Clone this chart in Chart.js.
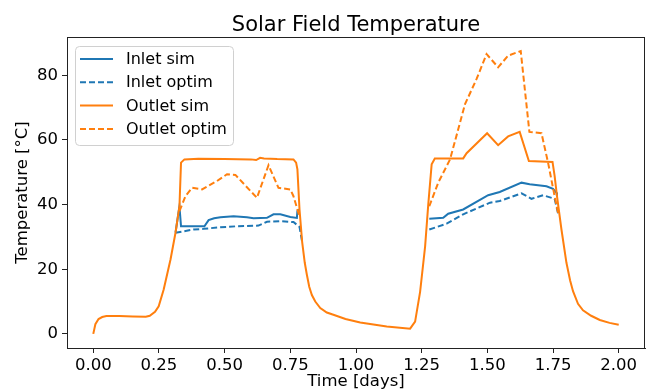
<!DOCTYPE html>
<html>
<head>
<meta charset="utf-8">
<script src="https://cdn.jsdelivr.net/npm/chart.js@4/dist/chart.umd.min.js"></script>
<style>
html,body{margin:0;padding:0;background:#fff;}
#c{display:block;}
</style>
</head>
<body>
<canvas id="c" width="649" height="392"></canvas>
<script>
// ---- data ----
const chartTitle = 'Solar Field Temperature';
const xLabel = 'Time [days]';
const yLabel = 'Temperature [°C]';
const seriesNames = ['Inlet sim', 'Inlet optim', 'Outlet sim', 'Outlet optim'];
const xTicks = [0, 0.25, 0.5, 0.75, 1.0, 1.25, 1.5, 1.75, 2.0];
const yTicks = [0, 20, 40, 60, 80];

const outletSimT = [0.000,0.008,0.020,0.034,0.050,0.100,0.150,0.200,0.215,0.235,0.249,0.268,0.294,0.313,0.328,0.334,0.347,0.400,0.500,0.600,0.620,0.635,0.650,0.700,0.762,0.772,0.777,0.785,0.795,0.805,0.813,0.822,0.832,0.845,0.864,0.889,0.914,0.960,1.016,1.117,1.206,1.225,1.244,1.263,1.275,1.288,1.300,1.408,1.421,1.499,1.541,1.579,1.623,1.658,1.748,1.756,1.765,1.782,1.801,1.815,1.826,1.845,1.864,1.895,1.928,1.965,2.000];
const outletSimV = [0.0,3.0,4.6,5.2,5.5,5.5,5.4,5.3,5.6,6.8,8.5,13.7,23.0,31.3,39.5,53.0,54.0,54.2,54.1,54.0,53.8,54.5,54.3,54.1,54.0,53.0,50.9,38.5,28.5,22.0,18.3,14.6,12.0,10.0,8.0,6.6,5.9,4.6,3.5,2.3,1.6,3.8,13.0,27.0,40.0,52.5,54.3,54.3,55.9,62.1,58.4,61.1,62.5,53.5,53.2,48.9,42.6,32.3,22.0,16.5,13.2,9.3,7.3,5.6,4.3,3.4,2.8];

const inletSimT = [0.313,0.328,0.334,0.423,0.439,0.460,0.484,0.534,0.585,0.610,0.661,0.686,0.712,0.750,0.775,0.777,0.785, 1.0, 1.279,1.332,1.351,1.408,1.503,1.547,1.630,1.661,1.725,1.750,1.763,1.765];
const inletSimV = [31.3,39.5,33.3,33.3,35.2,35.8,36.1,36.4,36.1,35.8,35.9,37.0,37.0,36.2,35.9,38.0,38.5, null, 35.6,35.9,37.2,38.5,42.9,43.9,46.8,46.3,45.7,44.9,43.7,42.6];

const inletOptimT = [0.313,0.382,0.420,0.484,0.547,0.629,0.661,0.712,0.762,0.785,0.795, 1.0, 1.279,1.345,1.408,1.510,1.547,1.630,1.668,1.712,1.756,1.770];
const inletOptimV = [31.3,32.3,32.5,33.0,33.3,33.5,34.7,34.9,34.6,33.1,28.5, null, 32.3,34.1,37.0,40.6,41.1,43.5,41.8,42.9,41.8,37.0];

const outletOptimT = [0.328,0.351,0.376,0.414,0.471,0.509,0.541,0.623,0.667,0.705,0.750,0.762,0.777,0.786, 1.0, 1.279,1.313,1.358,1.415,1.459,1.497,1.541,1.579,1.623,1.627,1.660,1.706,1.731,1.756,1.769];
const outletOptimV = [38.0,42.6,45.2,44.7,47.3,49.4,49.2,42.1,52.2,45.2,44.7,42.6,38.5,36.0, null, 39.5,46.8,54.0,71.1,78.9,86.6,82.5,86.1,87.4,87.5,62.5,62.1,53.0,42.6,37.5];

// ---- styling ----
const BLUE = '#1f77b4', ORANGE = '#ff7f0e';
const FONT = 'DejaVu Sans';
const DASH = [6, 3];

function pts(t, v) { return t.map((x, i) => ({ x: x, y: v[i] })); }

const datasets = [
  { label: seriesNames[0], data: pts(inletSimT, inletSimV), borderColor: BLUE, borderDash: [], order: 3 },
  { label: seriesNames[1], data: pts(inletOptimT, inletOptimV), borderColor: BLUE, borderDash: DASH, order: 2 },
  { label: seriesNames[2], data: pts(outletSimT, outletSimV), borderColor: ORANGE, borderDash: [], order: 1 },
  { label: seriesNames[3], data: pts(outletOptimT, outletOptimV), borderColor: ORANGE, borderDash: DASH, order: 0 }
].map(d => Object.assign(d, { borderWidth: 2, pointRadius: 0, tension: 0, fill: false, spanGaps: false }));

const framePlugin = {
  id: 'frame',
  afterDraw(chart) {
    const { ctx, chartArea: a } = chart;
    ctx.save();
    // frame
    ctx.strokeStyle = '#222';
    ctx.lineWidth = 1;
    ctx.strokeRect(Math.round(a.left) + 0.5, Math.round(a.top) + 0.5, Math.round(a.right - a.left) - 1, Math.round(a.bottom - a.top));
    // title over the axes
    ctx.fillStyle = '#000';
    ctx.font = '21px "' + FONT + '"';
    ctx.textAlign = 'center';
    ctx.textBaseline = 'alphabetic';
    ctx.fillText(chartTitle, (a.left + a.right) / 2, 31);
    // legend inside upper-left
    const lx = a.left + 8, ly = a.top + 9, lw = 158, lh = 99, r = 4;
    ctx.globalAlpha = 0.85;
    ctx.fillStyle = '#fff';
    ctx.beginPath();
    ctx.roundRect(lx + 0.5, ly + 0.5, lw, lh, r);
    ctx.fill();
    ctx.globalAlpha = 1;
    ctx.strokeStyle = '#d0d0d0';
    ctx.lineWidth = 1;
    ctx.stroke();
    ctx.font = '16px "' + FONT + '"';
    ctx.textAlign = 'left';
    ctx.textBaseline = 'middle';
    chart.data.datasets.forEach((d, i) => {
      const y = ly + 13 + i * 23.3;
      ctx.strokeStyle = d.borderColor;
      ctx.lineWidth = 2;
      ctx.setLineDash(d.borderDash);
      ctx.beginPath();
      ctx.moveTo(lx + 5, y);
      ctx.lineTo(lx + 38, y);
      ctx.stroke();
      ctx.setLineDash([]);
      ctx.fillStyle = '#000';
      ctx.fillText(d.label, lx + 51, y + 1);
    });
    ctx.restore();
  }
};

new Chart(document.getElementById('c'), {
  type: 'line',
  data: { datasets: datasets },
  plugins: [framePlugin],
  options: {
    responsive: false,
    animation: false,
    layout: { padding: { left: 0, right: 4, top: 37, bottom: 0 } },
    plugins: { legend: { display: false }, title: { display: false }, tooltip: { enabled: false } },
    scales: {
      x: {
        type: 'linear',
        min: -0.1, max: 2.1,
        afterBuildTicks: s => { s.ticks = xTicks.map(v => ({ value: v })); },
        afterFit: s => { s.height = 44; },
        ticks: { callback: v => Number(v).toFixed(2), font: { family: FONT, size: 16.5 }, color: '#000', padding: 3, maxRotation: 0, autoSkip: false },
        grid: { drawOnChartArea: false, drawTicks: true, tickLength: 5, color: '#222' },
        border: { display: true, color: '#222' },
        title: { display: true, text: xLabel, font: { family: FONT, size: 16.5 }, color: '#000', padding: { top: 0, bottom: 0 } }
      },
      y: {
        type: 'linear',
        min: -4.375, max: 91.875,
        afterBuildTicks: s => { s.ticks = yTicks.map(v => ({ value: v })); },
        afterFit: s => { s.width = 67; },
        ticks: { font: { family: FONT, size: 16.5 }, color: '#000', padding: 4, autoSkip: false },
        grid: { drawOnChartArea: false, drawTicks: true, tickLength: 5, color: '#222' },
        border: { display: true, color: '#222' },
        title: { display: true, text: yLabel, font: { family: FONT, size: 16.5 }, color: '#000', padding: { top: 13, bottom: 0 } }
      }
    }
  }
});
</script>
</body>
</html>
